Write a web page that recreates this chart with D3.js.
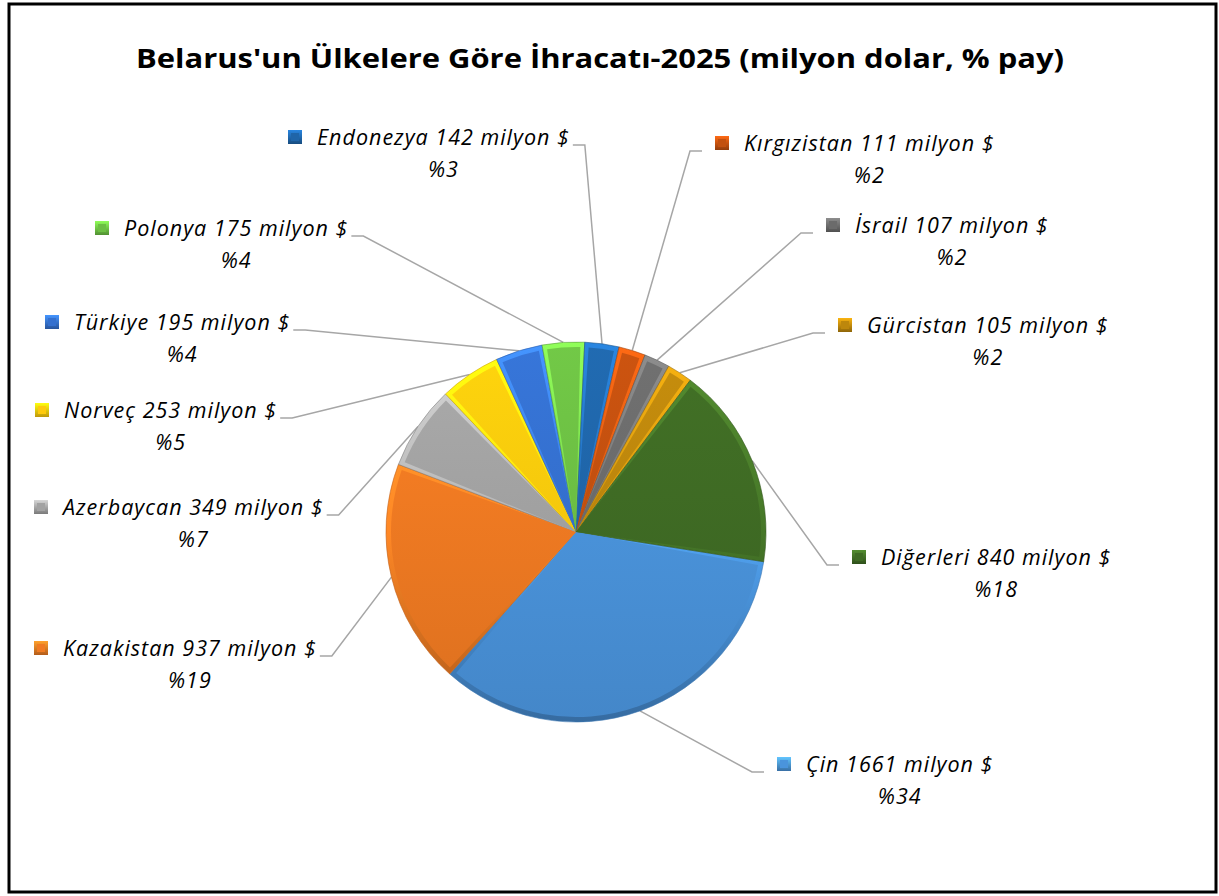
<!DOCTYPE html>
<html>
<head>
<meta charset="utf-8">
<script src="https://cdn.jsdelivr.net/npm/d3@7.9.0/dist/d3.min.js"></script>
<style>
  body { margin: 0; background: #fff; }
  svg text { font-family: "Open Sans", Lato, sans-serif; }
</style>
</head>
<body>
<svg id="chart" width="1219" height="896"></svg>
<script>
// data
const countries = ['Çin', 'Kazakistan', 'Azerbaycan', 'Norveç', 'Türkiye', 'Polonya',
  'Endonezya', 'Kırgızistan', 'İsrail', 'Gürcistan', 'Diğerleri'];
const values = [1661, 937, 349, 253, 195, 175, 142, 111, 107, 105, 840];
const percentLabels = ['%34', '%19', '%7', '%5', '%4', '%4', '%3', '%2', '%2', '%2', '%18'];
const sliceColors = ['#4A94DC', '#F07A22', '#A2A2A2', '#FFCA0C', '#3470CF', '#6CBF43',
  '#1F65A9', '#C2500F', '#6B6B6B', '#BD870C', '#3F6B24'];
const title = "Belarus'un Ülkelere Göre İhracatı-2025 (milyon dolar, % pay)";

// label placement (marker left x, first line middle y, side of the pie)
const labelLayout = [
  { x: 777, y: 764, side: 'right' },
  { x: 34, y: 648, side: 'left' },
  { x: 34, y: 507, side: 'left' },
  { x: 35, y: 410, side: 'left' },
  { x: 45, y: 322, side: 'left' },
  { x: 95, y: 228, side: 'left' },
  { x: 288, y: 137, side: 'left' },
  { x: 715, y: 143, side: 'right' },
  { x: 826, y: 225, side: 'right' },
  { x: 838, y: 325, side: 'right' },
  { x: 852, y: 557, side: 'right' },
];

const data = countries.map((c, i) => ({
  name: c, value: values[i], pct: percentLabels[i], color: sliceColors[i], pos: labelLayout[i]
}));

const svg = d3.select('#chart');
const cx = 576, cy = 532, r = 190;
const defs = svg.append('defs');

// frame
svg.append('rect')
  .attr('x', 9).attr('y', 4).attr('width', 1207).attr('height', 888)
  .attr('fill', '#fff').attr('stroke', '#000').attr('stroke-width', 3);

// title
svg.append('text')
  .attr('x', 600).attr('y', 68)
  .attr('text-anchor', 'middle')
  .attr('font-size', 27).attr('font-weight', 700)
  .attr('textLength', 928).attr('lengthAdjust', 'spacingAndGlyphs')
  .text(title);

// gradients for the bevel look
data.forEach((d, i) => {
  const c = d3.color(d.color);
  const rim = defs.append('linearGradient')
    .attr('id', 'rim' + i).attr('gradientUnits', 'userSpaceOnUse')
    .attr('x1', 0).attr('y1', -r).attr('x2', 0).attr('y2', r);
  rim.append('stop').attr('offset', 0).attr('stop-color', c.brighter(0.8));
  rim.append('stop').attr('offset', 0.5).attr('stop-color', c.brighter(0.3));
  rim.append('stop').attr('offset', 1).attr('stop-color', c.darker(0.9));

  const body = defs.append('linearGradient')
    .attr('id', 'body' + i).attr('gradientUnits', 'userSpaceOnUse')
    .attr('x1', 0).attr('y1', -r).attr('x2', 0).attr('y2', r);
  body.append('stop').attr('offset', 0).attr('stop-color', c.brighter(0.15));
  body.append('stop').attr('offset', 1).attr('stop-color', c.darker(0.25));

  const mk = defs.append('linearGradient')
    .attr('id', 'mk' + i).attr('x1', 0).attr('y1', 0).attr('x2', 0).attr('y2', 1);
  mk.append('stop').attr('offset', 0).attr('stop-color', c.brighter(0.8));
  mk.append('stop').attr('offset', 1).attr('stop-color', c.darker(0.8));
});

const pie = d3.pie()
  .value(d => d.value)
  .sort(null)
  .startAngle(99 * Math.PI / 180)
  .endAngle(99 * Math.PI / 180 + 2 * Math.PI);

const arcs = pie(data);
const outerArc = d3.arc().innerRadius(0).outerRadius(r);
const innerArc = d3.arc().innerRadius(0).outerRadius(r - 5)
  .padAngle(0.045).padRadius(r - 5);

const g = svg.append('g').attr('transform', `translate(${cx},${cy})`);

g.selectAll('path.rim')
  .data(arcs)
  .join('path')
  .attr('class', 'rim')
  .attr('d', outerArc)
  .attr('fill', (d, i) => `url(#rim${i})`)
  .attr('stroke', (d) => d3.color(d.data.color).darker(0.6))
  .attr('stroke-width', 0.6);

g.selectAll('path.body')
  .data(arcs)
  .join('path')
  .attr('class', 'body')
  .attr('d', innerArc)
  .attr('fill', (d, i) => `url(#body${i})`);

// labels + leader lines
const labels = svg.append('g');
arcs.forEach((a, i) => {
  const d = a.data;
  const p = d.pos;
  const mid = (a.startAngle + a.endAngle) / 2;
  const px = cx + r * Math.sin(mid);
  const py = cy - r * Math.cos(mid);

  // marker
  labels.append('rect')
    .attr('x', p.x).attr('y', p.y - 7).attr('width', 14).attr('height', 14)
    .attr('fill', `url(#mk${i})`);
  labels.append('rect')
    .attr('x', p.x + 3).attr('y', p.y - 4).attr('width', 8).attr('height', 8)
    .attr('fill', d.color);

  const t = labels.append('text')
    .attr('x', p.x + 29).attr('y', p.y + 8)
    .attr('font-size', 21.5).attr('font-style', 'italic')
    .attr('letter-spacing', 1)
    .attr('fill', '#000')
    .text(`${d.name} ${d.value} milyon $`);
  const tw = t.node().getComputedTextLength();

  labels.append('text')
    .attr('x', p.x + 29 + tw / 2).attr('y', p.y + 40)
    .attr('text-anchor', 'middle')
    .attr('font-size', 21.5).attr('font-style', 'italic')
    .attr('letter-spacing', 1)
    .text(d.pct);

  let pts;
  if (p.side === 'right') {
    pts = [[p.x - 13, p.y + 8], [p.x - 25, p.y + 8], [px, py]];
  } else {
    const ex = p.x + 29 + tw;
    pts = [[ex + 3, p.y + 8], [ex + 15, p.y + 8], [px, py]];
  }
  svg.insert('path', 'g')
    .attr('d', d3.line()(pts))
    .attr('fill', 'none')
    .attr('stroke', '#a6a6a6')
    .attr('stroke-width', 1.5);
});
</script>
</body>
</html>
